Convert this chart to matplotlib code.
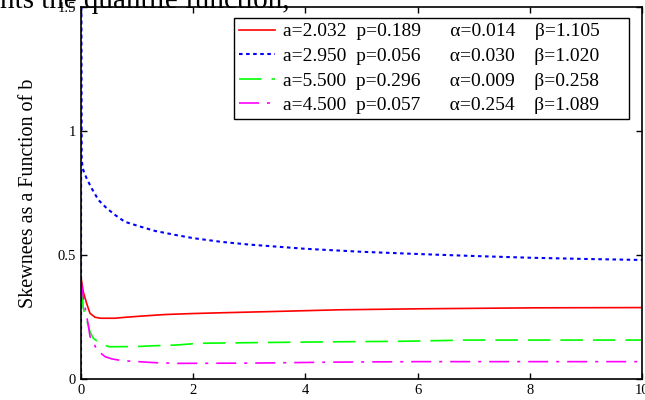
import matplotlib
matplotlib.use("Agg")
import matplotlib.pyplot as plt

plt.rcParams['font.family'] = ['Liberation Serif', 'DejaVu Serif']

# ---- data ----
b_red = [0.0, 0.04, 0.1, 0.16, 0.25, 0.35, 0.6, 0.8, 1.1, 1.5, 2.0, 2.5, 3.4, 4.6, 6.0, 8.1, 10.0]
s_red = [0.41, 0.352, 0.305, 0.265, 0.249, 0.245, 0.245, 0.249, 0.254, 0.260, 0.264, 0.267, 0.272, 0.279, 0.283, 0.287, 0.288]

b_blue = [0.0, 0.003, 0.01, 0.04, 0.1, 0.19, 0.31, 0.46, 0.61, 0.78, 1.02, 1.32, 1.68, 2.0, 2.5,
          3.0, 4.0, 5.0, 6.0, 7.0, 8.0, 9.0, 10.0]
s_blue = [0.0, 1.6, 0.883, 0.843, 0.809, 0.769, 0.722, 0.688, 0.661, 0.634, 0.617, 0.597, 0.581, 0.568, 0.553,
          0.542, 0.525, 0.513, 0.504, 0.496, 0.489, 0.484, 0.480]

b_green = [0.0, 0.02, 0.04, 0.1, 0.16, 0.22, 0.34, 0.5, 1.0, 1.3, 1.7, 2.1, 3.2, 4.5, 5.7, 6.9, 10.0]
s_green = [0.36, 0.345, 0.285, 0.238, 0.191, 0.164, 0.144, 0.130, 0.131, 0.134, 0.137, 0.144, 0.147, 0.150, 0.152, 0.157, 0.157]

b_mag = [0.0, 0.02, 0.07, 0.13, 0.16, 0.22, 0.28, 0.43, 0.55, 0.73, 1.3, 1.7, 3.0, 4.5, 6.0, 8.0, 10.0]
s_mag = [0.40, 0.36, 0.292, 0.218, 0.171, 0.150, 0.117, 0.090, 0.081, 0.074, 0.066, 0.063, 0.064, 0.068, 0.070, 0.070, 0.070]

labels = [
    "a=2.032  p=0.189      \u03b1=0.014    \u03b2=1.105     ",
    "a=2.950  p=0.056      \u03b1=0.030    \u03b2=1.020     ",
    "a=5.500  p=0.296      \u03b1=0.009    \u03b2=0.258     ",
    "a=4.500  p=0.057      \u03b1=0.254    \u03b2=1.089     ",
]

x_ticks = [0, 2, 4, 6, 8, 10]
x_ticklabels = ["0", "2", "4", "6", "8", "10"]
y_ticks = [0, 0.5, 1, 1.5]
y_ticklabels = ["0", "0.5", "1", "1.5"]

ylabel = "Skewnees as a Function of b"
top_text = "nts the quantile function,"

# ---- figure ----
fig = plt.figure(figsize=(6.45, 4.0), dpi=100)
ax = fig.add_axes([81 / 645, 21 / 400, 561 / 645, 372 / 400])

ax.plot(b_red, s_red, color='#ff0000', lw=1.2, linestyle='-', label=labels[0])
ax.plot(b_blue, s_blue, color='#0000ff', lw=1.5, linestyle=(0, (1.7, 1.7)), label=labels[1])
ax.plot(b_green, s_green, color='#00ff00', lw=1.2, linestyle=(0, (13.5, 6)), label=labels[2])
ax.plot(b_mag, s_mag, color='#ff00ff', lw=1.2, linestyle=(0, (12, 4.8, 1.8, 4.8)), label=labels[3])

ax.set_xlim(0, 10)
ax.set_ylim(0, 1.5)
ax.set_xticks(x_ticks)
ax.set_xticklabels(x_ticklabels)
ax.set_yticks(y_ticks)
ax.set_yticklabels(y_ticklabels)
ax.tick_params(direction='in', top=True, right=True, length=4.5, width=1.0,
               labelsize=10.5, pad=3.5, colors='black')
for sp in ax.spines.values():
    sp.set_linewidth(1.2)
    sp.set_color('black')

ax.set_ylabel(ylabel, fontsize=14.5)
ax.yaxis.set_label_coords(-0.077, 0.5)

leg = ax.legend(loc='upper right', bbox_to_anchor=((629 - 81) / 561, (379 - 18) / 372),
                borderaxespad=0, fontsize=14, frameon=True, fancybox=False, shadow=False,
                handlelength=1.85, handletextpad=0.4, borderpad=0.25, labelspacing=0.36)
leg.get_frame().set_edgecolor('black')
leg.get_frame().set_linewidth(1.0)
leg.get_frame().set_alpha(1)

fig.text(290 / 645, (400 - 8) / 400, top_text, fontsize=21, ha='right', va='baseline', zorder=10)

fig.savefig("out.png", dpi=100)
